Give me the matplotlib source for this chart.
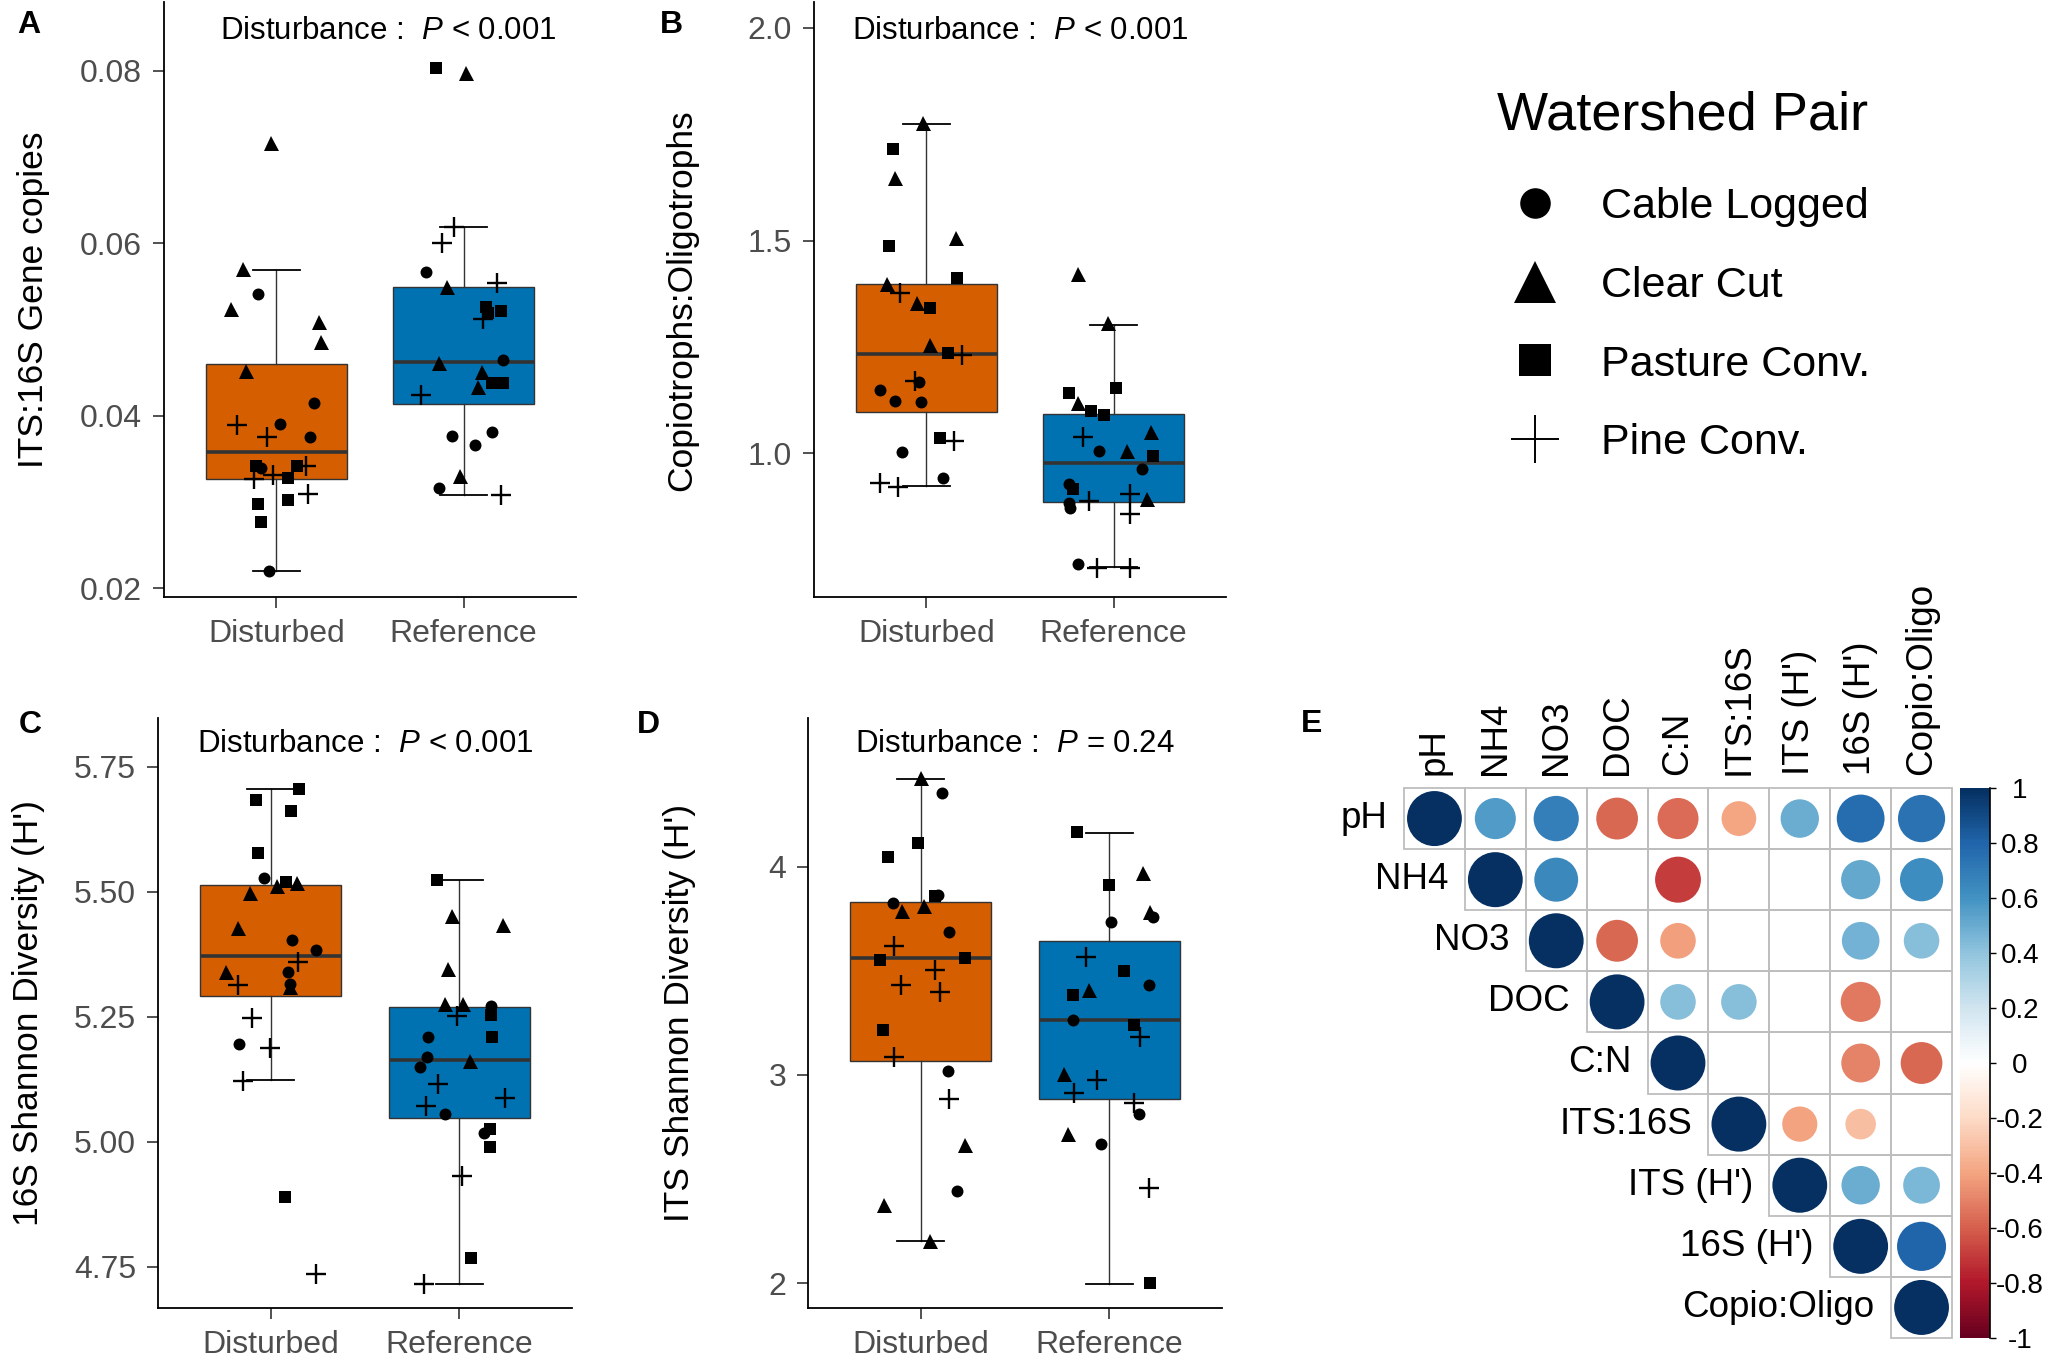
import numpy as np
import matplotlib
matplotlib.use("Agg")
import matplotlib.pyplot as plt
from matplotlib.lines import Line2D
from matplotlib.patches import Circle, Rectangle
from matplotlib.colors import LinearSegmentedColormap, Normalize
from matplotlib.cm import ScalarMappable

plt.rcParams['font.family'] = ['Liberation Sans', 'DejaVu Sans']
plt.rcParams['mathtext.fontset'] = 'custom'
plt.rcParams['mathtext.rm'] = 'Liberation Sans'
plt.rcParams['mathtext.it'] = 'Liberation Sans:italic'
plt.rcParams['axes.unicode_minus'] = False

W, H = 2055, 1365

# ---- data ----
groups = ["Disturbed", "Reference"]
fills = ["#D55E00", "#0072B2"]
pair_names = ["Cable Logged", "Clear Cut", "Pasture Conv.", "Pine Conv."]
# C = cable logged, T = clear cut, S = pasture conv., P = pine conv.

# panel A: ITS:16S gene copies
a_dis_pair = "TTTTTTCCCCCCSSSSSSPPPPPP"
a_dis_y = [0.0717, 0.0570, 0.0524, 0.0509, 0.0486, 0.0452,
           0.0541, 0.0415, 0.0391, 0.0375, 0.0340, 0.0220,
           0.0342, 0.0342, 0.0328, 0.0298, 0.0303, 0.0277,
           0.0389, 0.0376, 0.0342, 0.0327, 0.0331, 0.0309]
a_dis_dx = [-0.03, -0.18, -0.24, 0.23, 0.24, -0.16,
            -0.10, 0.20, 0.02, 0.18, -0.08, -0.04,
            -0.11, 0.11, 0.06, -0.10, 0.06, -0.08,
            -0.21, -0.05, 0.16, -0.12, -0.02, 0.17]
a_ref_pair = "SSSSSSTTTTTTCCCCCCPPPPPP"
a_ref_y = [0.0803, 0.0526, 0.0522, 0.0519, 0.0438, 0.0438,
           0.0798, 0.0550, 0.0461, 0.0451, 0.0433, 0.0330,
           0.0567, 0.0465, 0.0381, 0.0377, 0.0366, 0.0316,
           0.0619, 0.0601, 0.0554, 0.0512, 0.0424, 0.0308]
a_ref_dx = [-0.15, 0.12, 0.20, 0.13, 0.15, 0.21,
            0.01, -0.09, -0.13, 0.10, 0.075, -0.02,
            -0.20, 0.21, 0.15, -0.06, 0.06, -0.13,
            -0.05, -0.115, 0.18, 0.105, -0.23, 0.20]
a_box = [[0.0220, 0.0327, 0.0358, 0.0460, 0.0569],
         [0.0308, 0.0414, 0.0462, 0.0549, 0.0619]]

# panel B: copiotrophs:oligotrophs
b_dis_pair = "TTTTTTSSSSSSCCCCCCPPPPPP"
b_dis_y = [1.776, 1.647, 1.506, 1.397, 1.354, 1.254,
           1.716, 1.488, 1.412, 1.342, 1.236, 1.035,
           1.168, 1.148, 1.124, 1.120, 1.002, 0.941,
           1.376, 1.232, 1.170, 1.029, 0.931, 0.921]
b_dis_dx = [-0.02, -0.17, 0.16, -0.21, -0.05, 0.02,
            -0.18, -0.20, 0.165, 0.02, 0.115, 0.075,
            -0.04, -0.245, -0.17, -0.03, -0.13, 0.09,
            -0.14, 0.19, -0.06, 0.15, -0.25, -0.15]
b_ref_pair = "TTTTTTSSSSSSCCCCCCPPPPPP"
b_ref_y = [1.422, 1.307, 1.117, 1.049, 1.005, 0.892,
           1.153, 1.142, 1.099, 1.090, 0.994, 0.915,
           1.005, 0.964, 0.927, 0.884, 0.872, 0.739,
           1.038, 0.905, 0.887, 0.857, 0.730, 0.730]
b_ref_dx = [-0.19, -0.03, -0.19, 0.20, 0.07, 0.18,
            0.01, -0.24, -0.12, -0.05, 0.21, -0.215,
            -0.08, 0.15, -0.24, -0.24, -0.235, -0.19,
            -0.165, 0.09, -0.13, 0.09, -0.09, 0.085]
b_box = [[0.922, 1.098, 1.234, 1.398, 1.774],
         [0.732, 0.886, 0.978, 1.092, 1.301]]

# panel C: 16S Shannon diversity
c_dis_pair = "SSSSSSTTTTTTCCCCCCPPPPPP"
c_dis_y = [5.706, 5.683, 5.662, 5.578, 5.519, 4.889,
           5.517, 5.512, 5.497, 5.427, 5.339, 5.309,
           5.528, 5.403, 5.383, 5.340, 5.315, 5.196,
           5.359, 5.314, 5.248, 5.188, 5.121, 4.736]
c_dis_dx = [0.15, -0.08, 0.105, -0.07, 0.08, 0.075,
            0.14, 0.03, -0.11, -0.175, -0.24, 0.10,
            -0.035, 0.11, 0.24, 0.09, 0.10, -0.17,
            0.145, -0.175, -0.10, -0.005, -0.15, 0.24]
c_ref_pair = "SSSSSSTTTTTTCCCCCCPPPPPP"
c_ref_y = [5.523, 5.254, 5.210, 5.025, 4.989, 4.767,
           5.451, 5.434, 5.345, 5.276, 5.276, 5.161,
           5.271, 5.210, 5.170, 5.150, 5.055, 5.018,
           5.251, 5.116, 5.088, 5.072, 4.932, 4.716]
c_ref_dx = [-0.12, 0.17, 0.175, 0.165, 0.165, 0.065,
            -0.04, 0.235, -0.06, -0.075, 0.02, 0.06,
            0.17, -0.165, -0.17, -0.21, -0.075, 0.135,
            -0.01, -0.11, 0.245, -0.175, 0.015, -0.185]
c_box = [[5.123, 5.292, 5.372, 5.513, 5.706],
         [4.716, 5.048, 5.163, 5.270, 5.523]]

# panel D: ITS Shannon diversity
d_dis_pair = "TTTTTTCCCCCCSSSSSSPPPPPP"
d_dis_y = [4.428, 3.811, 3.790, 2.665, 2.377, 2.203,
           4.356, 3.865, 3.826, 3.686, 3.021, 2.440,
           4.113, 4.045, 3.862, 3.563, 3.554, 3.215,
           3.619, 3.502, 3.430, 3.398, 3.084, 2.886]
d_dis_dx = [0.0, 0.015, -0.10, 0.235, -0.195, 0.05,
            0.11, 0.09, -0.15, 0.15, 0.145, 0.19,
            -0.015, -0.175, 0.075, 0.235, -0.22, -0.20,
            -0.145, 0.075, -0.105, 0.10, -0.145, 0.15]
d_ref_pair = "SSSSSSTTTTTCCCCCCPPPPPP"
d_ref_y = [4.165, 3.914, 3.497, 3.384, 3.240, 2.000,
           3.968, 3.784, 3.407, 3.003, 2.715,
           3.761, 3.734, 3.430, 3.263, 2.810, 2.670,
           3.565, 3.182, 2.976, 2.913, 2.863, 2.455]
d_ref_dx = [-0.17, 0.0, 0.08, -0.19, 0.13, 0.22,
            0.18, 0.22, -0.105, -0.24, -0.22,
            0.235, 0.01, 0.21, -0.19, 0.16, -0.045,
            -0.125, 0.165, -0.065, -0.185, 0.135, 0.21]
d_box = [[2.200, 3.066, 3.560, 3.833, 4.422],
         [1.996, 2.886, 3.263, 3.644, 4.162]]

# panel E: correlation matrix (upper triangle, nan = not significant)
corr_labels = ["pH", "NH4", "NO3", "DOC", "C:N", "ITS:16S", "ITS (H')", "16S (H')", "Copio:Oligo"]
nan = np.nan
corr = [
    [1, 0.56, 0.68, -0.58, -0.56, -0.40, 0.49, 0.76, 0.74],
    [nan, 1, 0.64, nan, -0.70, nan, nan, 0.51, 0.62],
    [nan, nan, 1, -0.58, -0.42, nan, nan, 0.47, 0.42],
    [nan, nan, nan, 1, 0.42, 0.42, nan, -0.53, nan],
    [nan, nan, nan, nan, 1, nan, nan, -0.50, -0.58],
    [nan, nan, nan, nan, nan, 1, -0.41, -0.31, nan],
    [nan, nan, nan, nan, nan, nan, 1, 0.49, 0.45],
    [nan, nan, nan, nan, nan, nan, nan, 1, 0.80],
    [nan, nan, nan, nan, nan, nan, nan, nan, 1],
]
corr_colors = ["#67001F", "#B2182B", "#D6604D", "#F4A582", "#FDDBC7", "#FFFFFF",
               "#D1E5F0", "#92C5DE", "#4393C3", "#2166AC", "#053061"]
cb_ticks = [1, 0.8, 0.6, 0.4, 0.2, 0, -0.2, -0.4, -0.6, -0.8, -1]

# ---- styling ----
marker_style = {
    'C': dict(marker='o', ms=8.6, mew=0),
    'T': dict(marker='^', ms=10.8, mew=0),
    'S': dict(marker='s', ms=8.3, mew=0),
    'P': dict(marker='+', ms=14, mew=1.7),
}
legend_style = {
    'C': dict(marker='o', ms=22, mew=0),
    'T': dict(marker='^', ms=30, mew=0),
    'S': dict(marker='s', ms=23, mew=0),
    'P': dict(marker='+', ms=35, mew=1.4),
}
pair_codes = "CTSP"


def rect(left, top, right, bottom):
    return [left / W, 1 - bottom / H, (right - left) / W, (bottom - top) / H]


def box_panel(ax, dis, ref, boxes, ylim, yticks, yticklabels, ptext, px, py):
    stats = [dict(whislo=b[0], q1=b[1], med=b[2], q3=b[3], whishi=b[4], fliers=[])
             for b in boxes]
    bp = ax.bxp(stats, positions=[0, 1], widths=0.75, capwidths=0.25,
                patch_artist=True, showfliers=False,
                boxprops=dict(edgecolor='#333333', linewidth=1.0),
                medianprops=dict(color='#333333', linewidth=2.6),
                whiskerprops=dict(color='#333333', linewidth=1.0),
                capprops=dict(color='black', linewidth=1.3))
    for patch, c in zip(bp['boxes'], fills):
        patch.set_facecolor(c)
    for gi, (pairs, ys, dxs) in enumerate([dis, ref]):
        for code, y, dx in zip(pairs, ys, dxs):
            ax.plot(gi + dx, y, ls='none', color='black', zorder=4, **marker_style[code])
    ax.set_xlim(-0.6, 1.6)
    ax.set_ylim(*ylim)
    ax.set_xticks([0, 1])
    ax.set_xticklabels(groups)
    ax.set_yticks(yticks)
    ax.set_yticklabels(yticklabels)
    for s in ['top', 'right']:
        ax.spines[s].set_visible(False)
    for s in ['left', 'bottom']:
        ax.spines[s].set_linewidth(1.3)
        ax.spines[s].set_color('black')
    ax.tick_params(axis='both', length=7.8, width=1.2, color='#333333',
                   labelcolor='#4D4D4D', labelsize=23, pad=8)
    # annotation sits at data x = px (0 = Disturbed, 1 = Reference)
    ax.text(px, py, "Disturbance :  $\\mathit{P}$ " + ptext,
            transform=ax.get_xaxis_transform(),
            ha='center', va='center', fontsize=22.5, color='black')


fig = plt.figure(figsize=(W / 100, H / 100), dpi=100)

# panel positions in pixels: left, top, right, bottom
ax_a = fig.add_axes(rect(164, 2, 576, 597))
ax_b = fig.add_axes(rect(814, 2, 1226, 597))
ax_c = fig.add_axes(rect(158, 718, 572, 1308))
ax_d = fig.add_axes(rect(808, 718, 1222, 1308))

box_panel(ax_a, (a_dis_pair, a_dis_y, a_dis_dx), (a_ref_pair, a_ref_y, a_ref_dx), a_box,
          (0.0190, 0.0880), [0.02, 0.04, 0.06, 0.08], ["0.02", "0.04", "0.06", "0.08"],
          "< 0.001", 0.6, 0.952)
box_panel(ax_b, (b_dis_pair, b_dis_y, b_dis_dx), (b_ref_pair, b_ref_y, b_ref_dx), b_box,
          (0.662, 2.061), [1.0, 1.5, 2.0], ["1.0", "1.5", "2.0"], "< 0.001", 0.5, 0.952)
box_panel(ax_c, (c_dis_pair, c_dis_y, c_dis_dx), (c_ref_pair, c_ref_y, c_ref_dx), c_box,
          (4.668, 5.847), [4.75, 5.00, 5.25, 5.50, 5.75],
          ["4.75", "5.00", "5.25", "5.50", "5.75"], "< 0.001", 0.5, 0.956)
box_panel(ax_d, (d_dis_pair, d_dis_y, d_dis_dx), (d_ref_pair, d_ref_y, d_ref_dx), d_box,
          (1.880, 4.715), [2, 3, 4], ["2", "3", "4"], "= 0.24", 0.5, 0.956)

# y axis titles, centred on each panel
ylabels = [("ITS:16S Gene copies", 34, 300), ("Copiotrophs:Oligotrophs", 682, 300),
           ("16S Shannon Diversity (H')", 29, 1013), ("ITS Shannon Diversity (H')", 680, 1013)]
for txt, x, y in ylabels:
    fig.text(x / W, 1 - y / H, txt, rotation=90, ha='center', va='center', fontsize=25.5)

# panel letters
for lab, x, y in [("A", 29, 25), ("B", 671, 25), ("C", 30, 725), ("D", 648, 725), ("E", 1312, 724)]:
    fig.text(x / W, 1 - y / H, lab, ha='center', va='center', fontsize=23, fontweight='bold')

# legend
fig.text(1497 / W, 1 - 116 / H, "Watershed Pair", ha='left', va='center', fontsize=39)
handles = [Line2D([], [], ls='none', color='black', **legend_style[c]) for c in pair_codes]
fig.legend(handles, pair_names, loc='upper left',
           bbox_to_anchor=(1503 / W, 1 - 187 / H), frameon=False, fontsize=31,
           handlelength=1.5, handletextpad=0.78, labelspacing=0.9,
           borderpad=0, borderaxespad=0)

# panel E: correlation plot
n = len(corr_labels)
cmap = LinearSegmentedColormap.from_list('corrRdBu', corr_colors, N=200)
norm = Normalize(-1, 1)
ax_e = fig.add_axes(rect(1404, 788, 1952, 1338))
ax_e.set_xlim(0, n)
ax_e.set_ylim(n, 0)
ax_e.axis('off')
for i in range(n):
    for j in range(i, n):
        ax_e.add_patch(Rectangle((j, i), 1, 1, fill=False, edgecolor='#BEBEBE',
                                 linewidth=1.3, clip_on=False))
        r = corr[i][j]
        if not np.isnan(r):
            ax_e.add_patch(Circle((j + 0.5, i + 0.5), 0.45 * np.sqrt(abs(r)),
                                  facecolor=cmap(norm(r)), edgecolor='none', zorder=3))
for i, lab in enumerate(corr_labels):
    ax_e.text(i - 0.27, i + 0.5, lab, ha='right', va='center', fontsize=26.5)
    ax_e.text(i + 0.5, -0.22, lab, ha='center', va='bottom', rotation=90, fontsize=26.5)

cax = fig.add_axes(rect(1960, 788, 1990, 1338))
cb = fig.colorbar(ScalarMappable(norm=norm, cmap=cmap), cax=cax, ticks=cb_ticks)
cb.outline.set_visible(False)
cax.set_yticklabels(["%g" % t for t in cb_ticks])
cax.tick_params(axis='y', length=4.5, width=1.0, color='black', labelsize=20, pad=17)
for t in cax.get_yticklabels():
    t.set_ha('center')
cax.plot([1, 1], [0, 1], transform=cax.transAxes, color='black', lw=1.2, clip_on=False)

fig.savefig("out.png", dpi=100)
